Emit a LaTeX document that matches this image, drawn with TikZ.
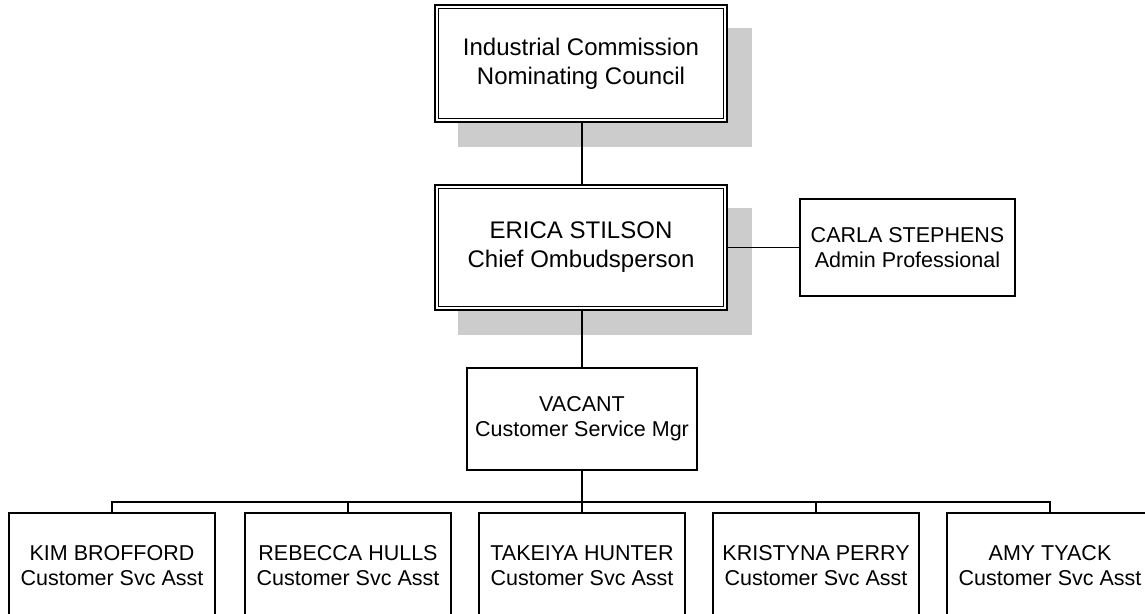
\documentclass[tikz,border=0pt]{standalone}
\usepackage{fontspec}
\setmainfont{Liberation Sans}
\usetikzlibrary{backgrounds}
\definecolor{shadowgray}{HTML}{CCCCCC}
\tikzset{
  x=1pt, y=1pt,
  conn/.style={draw=black, line width=1.5pt},
  bigbox/.style={draw=black, fill=white, line width=2pt, align=center, inner sep=0pt,
     minimum width=292pt, font=\fontsize{24}{29}\selectfont},
  smallbox/.style={draw=black, fill=white, line width=1.6pt, align=center, inner sep=0pt,
     font=\fontsize{21.5}{25}\selectfont},
  staffbox/.style={smallbox, minimum width=206pt, minimum height=106pt},
  innerline/.style={draw=black, line width=1.5pt},
}
\begin{document}
\begin{tikzpicture}
\useasboundingbox (0,0) rectangle (1145,-613);
\clip (0,0) rectangle (1145,-613);

\node[bigbox, minimum height=117pt] (ic) at (581,-63.5) {Industrial Commission\\Nominating Council};
\node[bigbox, minimum height=125pt] (es) at (581,-247.5) {ERICA STILSON\\Chief Ombudsperson};
\node[smallbox, minimum width=215pt, minimum height=97pt] (cs) at (907.5,-247.5) {CARLA STEPHENS\\Admin Professional};
\node[smallbox, minimum width=230pt, minimum height=102pt] (vac) at (582,-419) {VACANT\\Customer Service Mgr};

\node[staffbox] (b1) at (112,-566) {KIM BROFFORD\\Customer Svc Asst};
\node[staffbox] (b2) at (348,-566) {REBECCA HULLS\\Customer Svc Asst};
\node[staffbox] (b3) at (582,-566) {TAKEIYA HUNTER\\Customer Svc Asst};
\node[staffbox] (b4) at (816,-566) {KRISTYNA PERRY\\Customer Svc Asst};
\node[staffbox] (b5) at (1050,-566) {AMY TYACK\\Customer Svc Asst};

% inner lines of the double frames
\foreach \n in {ic,es}{
  \draw[innerline] ([shift={(4.5,-4.5)}]\n.north west) rectangle ([shift={(-4.5,4.5)}]\n.south east);
}

% shadows
\begin{pgfonlayer}{background}
  \foreach \n in {ic,es}{
    \fill[shadowgray] ([shift={(24,-24)}]\n.north west) rectangle ([shift={(24,-24)}]\n.south east);
  }
\end{pgfonlayer}

% connectors
\coordinate (bar) at (582,-502);
\draw[conn] (ic.south -| 582,0) -- (es.north -| 582,0);
\draw[conn] (es.east) -- (cs.west);
\draw[conn] (es.south -| 582,0) -- (vac.north -| 582,0);
\draw[conn] (vac.south -| 582,0) -- (bar);
\draw[conn] (b1.north) -- (b1.north |- bar) -- (b5.north |- bar) -- (b5.north);
\foreach \b in {b2,b3,b4}{
  \draw[conn] (\b.north) -- (\b.north |- bar);
}
\end{tikzpicture}
\end{document}
